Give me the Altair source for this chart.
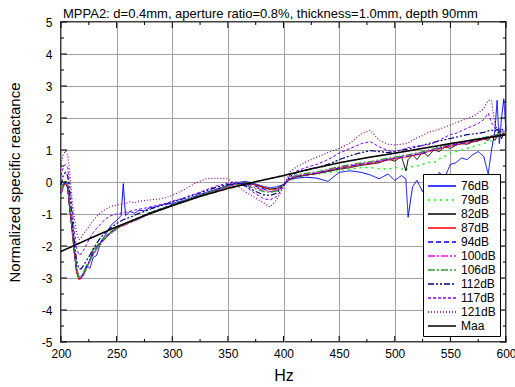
import altair as alt
import pandas as pd

# ---------------- data ----------------
FREQ = [200, 202, 204, 206, 208, 210, 212, 214, 216, 218,
        220, 223, 226, 229, 232, 236, 240, 245, 250, 254,
        256, 258, 262, 266, 270, 275, 280, 285, 290, 295,
        300, 310, 320, 330, 340, 350, 358, 366, 374, 382,
        388, 394, 400, 406, 412, 420, 430, 440, 450, 460,
        470, 478, 486, 494, 500, 506, 510, 512, 516, 520,
        525, 530, 535, 540, 545, 550, 555, 560, 565, 570,
        575, 580, 584, 587, 590, 592, 594, 596, 598, 600]

DB76 = [-0.30, -0.05, 0.02, -0.20, -0.90, -1.45, -2.10, -2.70, -2.95, -2.98,
        -2.85, -2.60, -2.70, -2.35, -2.30, -1.85, -1.65, -1.35, -1.20, -1.05,
        -0.05, -1.05, -0.92, -0.98, -0.88, -0.90, -0.80, -0.78, -0.72, -0.70,
        -0.66, -0.58, -0.45, -0.33, -0.22, -0.10, -0.02, 0.02, -0.05, -0.14,
        -0.18, -0.15, -0.08, 0.08, 0.12, 0.15, 0.12, 0.02, 0.30, 0.35,
        0.30, 0.22, 0.10, 0.25, 0.05, 0.20, 0.10, -1.10, -0.15, 0.05,
        -0.30, 0.10, -0.10, 0.30, 0.15, 0.55, 0.60, 0.75, 0.70, 0.85,
        0.95, 0.80, 0.25, 1.00, 1.60, 2.55, 1.20, 2.00, 2.60, 1.60]

DB79 = [-0.45, -0.15, -0.02, -0.18, -0.90, -1.55, -2.25, -2.80, -3.00, -2.95,
        -2.85, -2.62, -2.40, -2.20, -2.02, -1.85, -1.70, -1.55, -1.42, -1.35,
        -1.30, -1.28, -1.22, -1.16, -1.10, -1.02, -0.95, -0.88, -0.82, -0.76,
        -0.70, -0.60, -0.48, -0.36, -0.24, -0.12, -0.04, -0.02, -0.08, -0.20,
        -0.25, -0.22, -0.08, 0.08, 0.15, 0.20, 0.25, 0.30, 0.36, 0.40,
        0.45, 0.45, 0.42, 0.40, 0.45, 0.42, 0.35, 0.45, 0.48, 0.50,
        0.55, 0.62, 0.60, 0.72, 0.80, 0.90, 0.95, 1.00, 1.05, 1.10,
        1.15, 1.20, 1.25, 1.30, 1.35, 1.50, 1.70, 1.40, 1.55, 1.45]

DB82 = [-0.35, -0.12, -0.03, -0.16, -0.88, -1.52, -2.22, -2.82, -3.02, -3.00,
        -2.88, -2.66, -2.45, -2.10, -2.00, -1.88, -1.72, -1.56, -1.44, -1.36,
        -1.33, -1.30, -1.24, -1.18, -1.12, -1.04, -0.96, -0.90, -0.84, -0.78,
        -0.72, -0.61, -0.49, -0.37, -0.25, -0.14, -0.05, -0.03, -0.08, -0.18,
        -0.22, -0.20, -0.09, 0.09, 0.16, 0.21, 0.26, 0.33, 0.40, 0.45,
        0.52, 0.56, 0.60, 0.72, 0.65, 0.80, 0.35, 0.70, 0.85, 0.70,
        0.95, 0.80, 1.00, 0.95, 1.10, 1.05, 1.15, 1.20, 1.18, 1.25,
        1.28, 1.35, 1.30, 1.45, 1.30, 1.40, 1.60, 1.35, 1.50, 1.45]

DB87 = [-0.40, -0.15, -0.04, -0.15, -0.85, -1.50, -2.20, -2.80, -3.05, -3.02,
        -2.92, -2.70, -2.45, -2.25, -2.08, -1.90, -1.75, -1.58, -1.46, -1.38,
        -1.35, -1.32, -1.26, -1.20, -1.14, -1.06, -0.98, -0.92, -0.86, -0.80,
        -0.73, -0.62, -0.50, -0.38, -0.26, -0.15, -0.06, -0.04, -0.08, -0.16,
        -0.24, -0.24, -0.10, 0.10, 0.18, 0.22, 0.27, 0.35, 0.43, 0.48,
        0.55, 0.58, 0.63, 0.68, 0.72, 0.76, 0.78, 0.79, 0.82, 0.85,
        0.88, 0.95, 0.98, 1.03, 1.08, 1.12, 1.16, 1.19, 1.22, 1.26,
        1.30, 1.33, 1.36, 1.39, 1.40, 1.42, 1.44, 1.45, 1.46, 1.48]

DB94 = [-0.35, -0.10, 0.00, -0.12, -0.80, -1.45, -2.15, -2.75, -3.00, -2.98,
        -2.88, -2.66, -2.42, -2.22, -2.05, -1.87, -1.72, -1.56, -1.44, -1.36,
        -1.33, -1.30, -1.24, -1.18, -1.12, -1.04, -0.96, -0.90, -0.84, -0.77,
        -0.70, -0.59, -0.47, -0.35, -0.23, -0.12, -0.04, -0.05, -0.12, -0.22,
        -0.30, -0.28, -0.12, 0.10, 0.18, 0.23, 0.28, 0.36, 0.44, 0.50,
        0.56, 0.60, 0.65, 0.70, 0.74, 0.78, 0.80, 0.81, 0.84, 0.87,
        0.90, 0.96, 1.00, 1.05, 1.10, 1.14, 1.18, 1.21, 1.24, 1.28,
        1.32, 1.35, 1.38, 1.41, 1.42, 1.44, 1.46, 1.47, 1.48, 1.50]

DB100 = [-0.40, -0.12, 0.02, -0.10, -0.75, -1.40, -2.10, -2.72, -3.00, -3.00,
         -2.92, -2.72, -2.48, -2.28, -2.10, -1.92, -1.77, -1.60, -1.48, -1.40,
         -1.37, -1.34, -1.28, -1.22, -1.16, -1.08, -1.00, -0.93, -0.87, -0.81,
         -0.74, -0.62, -0.50, -0.38, -0.26, -0.15, -0.07, -0.08, -0.16, -0.26,
         -0.30, -0.27, -0.10, 0.12, 0.20, 0.25, 0.30, 0.38, 0.46, 0.52,
         0.58, 0.62, 0.67, 0.72, 0.76, 0.80, 0.82, 0.83, 0.86, 0.89,
         0.92, 0.98, 1.02, 1.07, 1.12, 1.16, 1.20, 1.23, 1.26, 1.30,
         1.34, 1.37, 1.40, 1.43, 1.45, 1.47, 1.50, 1.52, 1.55, 1.56]

DB106 = [-0.30, -0.05, 0.05, -0.05, -0.70, -1.35, -2.05, -2.68, -2.98, -2.98,
         -2.88, -2.68, -2.45, -2.25, -2.08, -1.90, -1.75, -1.58, -1.46, -1.38,
         -1.35, -1.32, -1.26, -1.20, -1.14, -1.06, -0.98, -0.91, -0.85, -0.79,
         -0.72, -0.60, -0.48, -0.36, -0.24, -0.13, -0.06, -0.10, -0.20, -0.30,
         -0.32, -0.28, -0.08, 0.14, 0.22, 0.27, 0.32, 0.40, 0.48, 0.54,
         0.60, 0.64, 0.69, 0.74, 0.78, 0.82, 0.84, 0.85, 0.88, 0.91,
         0.94, 1.00, 1.04, 1.09, 1.14, 1.18, 1.22, 1.25, 1.28, 1.32,
         1.36, 1.39, 1.42, 1.45, 1.47, 1.49, 1.52, 1.54, 1.57, 1.58]

DB112 = [-0.10, 0.20, 0.30, 0.20, -0.40, -1.10, -1.85, -2.45, -2.70, -2.72,
         -2.62, -2.45, -2.28, -2.08, -1.92, -1.72, -1.58, -1.42, -1.30, -1.22,
         -1.18, -1.15, -1.10, -1.04, -0.98, -0.92, -0.85, -0.79, -0.74, -0.68,
         -0.62, -0.52, -0.40, -0.28, -0.16, -0.08, -0.03, -0.12, -0.28, -0.40,
         -0.42, -0.35, -0.10, 0.18, 0.30, 0.38, 0.45, 0.55, 0.70, 0.82,
         0.92, 0.98, 0.95, 0.92, 0.95, 1.00, 1.02, 1.03, 1.06, 1.10,
         1.14, 1.20, 1.24, 1.28, 1.32, 1.36, 1.40, 1.44, 1.48, 1.50,
         1.52, 1.55, 1.60, 1.62, 1.58, 1.65, 1.62, 1.66, 1.60, 1.62]

DB117 = [0.20, 0.45, 0.55, 0.45, -0.15, -0.85, -1.55, -2.05, -2.28, -2.25,
         -2.15, -1.95, -1.75, -1.58, -1.45, -1.30, -1.15, -1.05, -1.00, -0.97,
         -0.96, -0.95, -0.92, -0.88, -0.85, -0.82, -0.78, -0.74, -0.70, -0.66,
         -0.60, -0.50, -0.38, -0.25, -0.12, -0.04, 0.00, -0.15, -0.35, -0.52,
         -0.56, -0.45, -0.15, 0.22, 0.35, 0.45, 0.55, 0.70, 0.90, 1.05,
         1.20, 1.26, 1.10, 0.98, 0.95, 1.00, 1.05, 1.08, 1.10, 1.12,
         1.15, 1.16, 1.22, 1.30, 1.40, 1.48, 1.52, 1.60, 1.68, 1.75,
         1.83, 1.95, 2.15, 1.85, 1.70, 1.60, 1.65, 1.58, 1.62, 1.60]

DB121 = [0.55, 0.85, 0.98, 0.85, 0.25, -0.55, -1.15, -1.60, -1.80, -1.75,
         -1.62, -1.50, -1.35, -1.20, -1.08, -0.95, -0.85, -0.76, -0.72, -0.70,
         -0.68, -0.67, -0.62, -0.65, -0.60, -0.58, -0.56, -0.54, -0.52, -0.48,
         -0.42, -0.25, -0.05, 0.10, 0.12, 0.10, -0.10, -0.32, -0.48, -0.65,
         -0.78, -0.55, -0.15, 0.32, 0.48, 0.62, 0.78, 0.92, 1.05, 1.22,
         1.50, 1.62, 1.30, 1.18, 1.16, 1.18, 1.20, 1.22, 1.30, 1.38,
         1.45, 1.55, 1.60, 1.65, 1.72, 1.78, 1.85, 1.92, 1.98, 2.05,
         2.15, 2.30, 2.55, 2.55, 1.80, 1.65, 1.60, 1.55, 1.50, 1.48]

MAA_FREQ = [200, 225, 250, 275, 300, 325, 350, 375, 400, 425,
            450, 475, 500, 525, 550, 575, 600]
MAA = [-2.17, -1.78, -1.40, -1.05, -0.74, -0.45, -0.20, 0.01, 0.20, 0.41,
       0.60, 0.76, 0.90, 1.05, 1.20, 1.34, 1.48]

SERIES = ["76dB", "79dB", "82dB", "87dB", "94dB", "100dB",
          "106dB", "112dB", "117dB", "121dB", "Maa"]
COLORS = ["#0000ff", "#00ff00", "#000000", "#ff0000", "#0000ff", "#ff00ff",
          "#2e9e2e", "#000080", "#8000ff", "#800080", "#000000"]
DASHES = [[1, 0], [2, 4], [1, 0], [1, 0], [5, 3], [7, 2, 2, 2],
          [7, 2, 2, 2], [6, 2, 2, 2, 2, 2], [3, 2], [1, 2], [1, 0]]
WIDTHS = [1, 1.3, 1, 1, 1, 1, 1.2, 1.2, 1, 1.2, 1.6]

X_MAJOR = [200, 250, 300, 350, 400, 450, 500, 550, 600]
X_MINOR = [225, 275, 325, 375, 425, 475, 525, 575]
Y_MAJOR = [-5, -4, -3, -2, -1, 0, 1, 2, 3, 4, 5]
Y_MINOR = [-4.5, -3.5, -2.5, -1.5, -0.5, 0.5, 1.5, 2.5, 3.5, 4.5]

TITLE = "MPPA2: d=0.4mm, aperture ratio=0.8%, thickness=1.0mm, depth 90mm"
X_TITLE = "Hz"
Y_TITLE = "Normalized specific reactance"

# ---------------- tables ----------------
series_vals = [DB76, DB79, DB82, DB87, DB94, DB100, DB106, DB112, DB117, DB121]
rows = []
for i, (name, vals) in enumerate(zip(SERIES[:-1], series_vals)):
    assert len(vals) == len(FREQ), name
    for f, v in zip(FREQ, vals):
        rows.append({"f": f, "v": v, "series": name, "w": WIDTHS[i], "k": i})
for f, v in zip(MAA_FREQ, MAA):
    rows.append({"f": f, "v": v, "series": "Maa", "w": WIDTHS[-1], "k": 10})
df = pd.DataFrame(rows)

W, H = 445, 320
FONT = "Liberation Sans"

xscale = alt.Scale(domain=[200, 600], nice=False, zero=False)
yscale = alt.Scale(domain=[-5, 5], nice=False, zero=False)

xaxis = alt.Axis(values=X_MAJOR, grid=True, ticks=False, domain=False,
                 labelPadding=6, labelFontSize=12, titleFontSize=16,
                 titlePadding=8, labelExpr="'' + datum.value",
                 labelOverlap=False, labelFlush=False,
                 gridColor="#a0a0a0", gridWidth=1)
yaxis = alt.Axis(values=Y_MAJOR, grid=True, ticks=False, domain=False,
                 labelPadding=9, labelFontSize=12, titleFontSize=15,
                 titlePadding=19, labelExpr="'' + datum.value",
                 labelOverlap=False, labelFlush=False,
                 gridColor="#a0a0a0", gridWidth=1)

color = alt.Color("series:N", scale=alt.Scale(domain=SERIES, range=COLORS),
                  legend=alt.Legend(title=None))
dash = alt.StrokeDash("series:N", scale=alt.Scale(domain=SERIES, range=DASHES),
                      legend=alt.Legend(title=None))

lines = alt.Chart(df).mark_line(interpolate="linear").encode(
    x=alt.X("f:Q", scale=xscale, title=X_TITLE, axis=xaxis),
    y=alt.Y("v:Q", scale=yscale, title=Y_TITLE, axis=yaxis),
    color=color,
    strokeDash=dash,
    strokeWidth=alt.StrokeWidth("w:Q", scale=None, legend=None),
    order=alt.Order("k:Q"),
    detail="series:N",
)

def xticks(vals, y0, y1):
    d = pd.DataFrame({"t": vals})
    return alt.Chart(d).mark_rule(color="black", strokeWidth=1).encode(
        x=alt.X("t:Q", scale=xscale, title=X_TITLE, axis=xaxis),
        y=alt.value(y0), y2=alt.value(y1))

def yticks(vals, x0, x1):
    d = pd.DataFrame({"t": vals})
    return alt.Chart(d).mark_rule(color="black", strokeWidth=1).encode(
        y=alt.Y("t:Q", scale=yscale, title=Y_TITLE, axis=yaxis),
        x=alt.value(x0), x2=alt.value(x1))

ticks = [
    xticks(X_MAJOR, H, H - 6), xticks(X_MINOR, H, H - 3),
    xticks(X_MAJOR, 0, 6), xticks(X_MINOR, 0, 3),
    yticks(Y_MAJOR, 0, 6), yticks(Y_MINOR, 0, 3),
    yticks(Y_MAJOR, W, W - 6), yticks(Y_MINOR, W, W - 3),
]

chart = alt.layer(lines, *ticks).properties(
    width=W, height=H,
    title=alt.TitleParams(TITLE, anchor="start", frame="group", fontSize=13,
                          fontWeight="normal", font=FONT, offset=0, dx=2, dy=5),
    autosize=alt.AutoSizeParams(type="none"),
    padding={"left": 61, "top": 22, "right": 9, "bottom": 45},
).configure_view(
    stroke="black", strokeWidth=1.5
).configure_axis(
    labelFont=FONT, titleFont=FONT, labelColor="black", titleColor="black",
    titleFontWeight="normal", labelOverlap=False
).configure_legend(
    orient="bottom-right", offset=6, strokeColor="black", fillColor="white",
    padding=4, symbolType="M-1,0H3", symbolSize=196, symbolStrokeWidth=1.3,
    labelFont=FONT, labelFontSize=12, labelColor="black", labelOffset=18,
    rowPadding=0, cornerRadius=0,
)

chart.save("out.html", embed_options={"renderer": "svg", "actions": False})
